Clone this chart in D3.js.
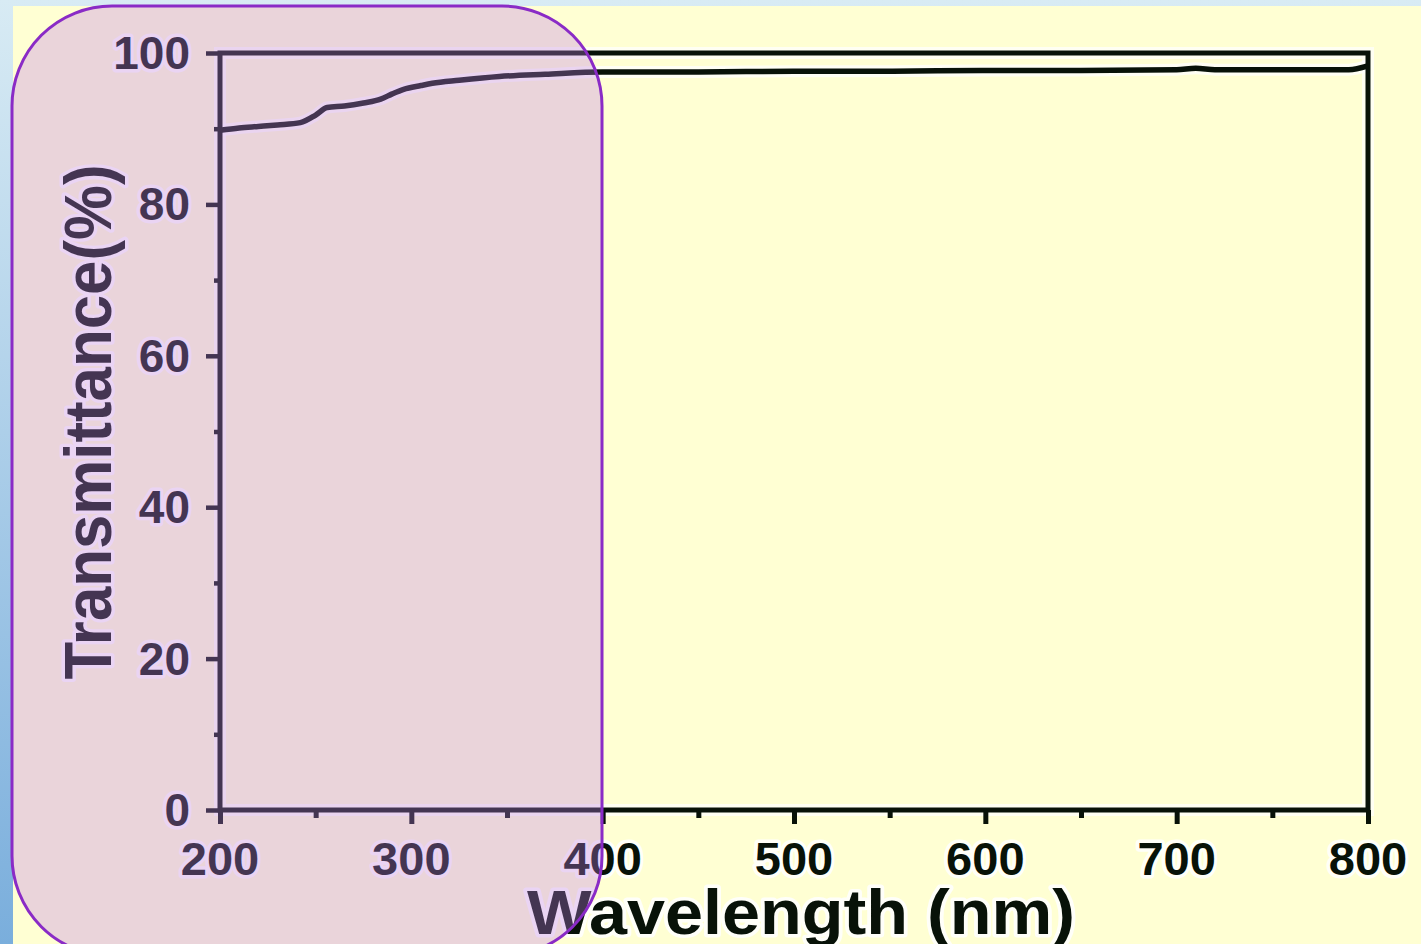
<!DOCTYPE html>
<html>
<head>
<meta charset="utf-8">
<script src="https://cdn.jsdelivr.net/npm/d3@7"></script>
<style>
  body { margin: 0; padding: 0; overflow: hidden; }
  svg { display: block; }
  .lbl { font-family: "Liberation Sans", Arial, sans-serif; font-weight: bold; fill: #081208;
         stroke: #ffffff; stroke-width: 7; stroke-linejoin: round; paint-order: stroke; stroke-opacity: 0.85; }
</style>
</head>
<body>
<svg id="chart"></svg>
<script>
// data
var wavelength = [200, 210, 220, 230, 242, 250, 256, 265, 275, 284, 290, 296, 305, 311, 325, 346, 370, 400, 450, 500, 550, 600, 650, 700, 710, 720, 750, 790, 800];
var transmittance = [89.8, 90.1, 90.3, 90.5, 90.8, 91.8, 92.8, 93.0, 93.4, 93.9, 94.6, 95.2, 95.7, 96.0, 96.4, 96.9, 97.2, 97.5, 97.5, 97.6, 97.6, 97.7, 97.7, 97.8, 98.0, 97.8, 97.8, 97.8, 98.3];
var xTicks = [200, 300, 400, 500, 600, 700, 800];
var xMinor = [250, 350, 450, 550, 650, 750];
var yTicks = [0, 20, 40, 60, 80, 100];
var yMinor = [10, 30, 50, 70, 90];

var data = wavelength.map(function(w, i) { return {w: w, t: transmittance[i]}; });

var screen = { width: 1421, height: 944 };

var svg = d3.select("#chart")
            .attr("width", screen.width)
            .attr("height", screen.height);

var defs = svg.append("defs");
var grad = defs.append("linearGradient").attr("id", "blue")
               .attr("x1", 0).attr("y1", 0).attr("x2", 0).attr("y2", 1);
grad.append("stop").attr("offset", "0%").attr("stop-color", "#d8ebf4");
grad.append("stop").attr("offset", "100%").attr("stop-color", "#7aaedc");

// background
svg.append("rect").attr("width", screen.width).attr("height", screen.height).attr("fill", "url(#blue)");
svg.append("rect").attr("x", 13).attr("y", 6).attr("width", screen.width - 13).attr("height", screen.height - 6)
   .attr("fill", "#ffffd3");

var margins = { top: 53, left: 220, right: 1421 - 1368, bottom: 944 - 810 };
var width = screen.width - margins.left - margins.right;
var height = screen.height - margins.top - margins.bottom;

var xScale = d3.scaleLinear().domain([200, 800]).range([0, width]);
var yScale = d3.scaleLinear().domain([0, 100]).range([height, 0]);

var plotLand = svg.append("g")
                  .attr("transform", "translate(" + margins.left + "," + margins.top + ")");

var line = d3.line()
             .x(function(d) { return xScale(d.w); })
             .y(function(d) { return yScale(d.t); })
             .curve(d3.curveMonotoneX);

// white glow under the frame and curve
plotLand.append("rect").attr("width", width).attr("height", height)
        .attr("fill", "none").attr("stroke", "#ffffff").attr("stroke-width", 12).attr("stroke-opacity", 0.7);
plotLand.append("path").datum(data).attr("d", line)
        .attr("fill", "none").attr("stroke", "#ffffff").attr("stroke-width", 12).attr("stroke-opacity", 0.75);

plotLand.append("rect").attr("width", width).attr("height", height)
        .attr("fill", "none").attr("stroke", "#081208").attr("stroke-width", 5);

plotLand.append("path").datum(data).attr("d", line)
        .attr("fill", "none").attr("stroke", "#081208").attr("stroke-width", 5.5)
        .attr("stroke-linejoin", "round");

// axes
var xAxis = d3.axisBottom(xScale).tickValues(xTicks).tickSize(14).tickFormat("");
var xAxisMinor = d3.axisBottom(xScale).tickValues(xMinor).tickSize(8).tickFormat("");
var yAxis = d3.axisLeft(yScale).tickValues(yTicks).tickSize(14).tickFormat("");
var yAxisMinor = d3.axisLeft(yScale).tickValues(yMinor).tickSize(6).tickFormat("");

[xAxis, xAxisMinor].forEach(function(ax) {
  plotLand.append("g").attr("transform", "translate(0," + height + ")").call(ax)
          .call(function(g) { g.select(".domain").remove(); })
          .selectAll("line").attr("stroke", "#081208").attr("stroke-width", 5);
});
[yAxis, yAxisMinor].forEach(function(ax) {
  plotLand.append("g").call(ax)
          .call(function(g) { g.select(".domain").remove(); })
          .selectAll("line").attr("stroke", "#081208").attr("stroke-width", 4.5);
});

// tick labels
plotLand.selectAll(".xlab").data(xTicks).enter().append("text")
        .attr("class", "lbl")
        .attr("x", function(d) { return xScale(d); })
        .attr("y", height + 65)
        .attr("text-anchor", "middle")
        .style("font-size", "47px")
        .text(function(d) { return d; });

plotLand.selectAll(".ylab").data(yTicks).enter().append("text")
        .attr("class", "lbl")
        .attr("x", -30)
        .attr("y", function(d) { return yScale(d) + 16; })
        .attr("text-anchor", "end")
        .style("font-size", "46px")
        .text(function(d) { return d; });

// axis titles
svg.append("text").attr("class", "lbl")
   .attr("x", 801).attr("y", 934)
   .attr("text-anchor", "middle")
   .style("font-size", "63px")
   .attr("textLength", 548).attr("lengthAdjust", "spacingAndGlyphs")
   .text("Wavelength (nm)");

svg.append("text").attr("class", "lbl")
   .attr("transform", "translate(111,422) rotate(-90)")
   .attr("text-anchor", "middle")
   .style("font-size", "66px")
   .attr("textLength", 515).attr("lengthAdjust", "spacingAndGlyphs")
   .text("Transmittance(%)");

// highlight box drawn over the left part
svg.append("rect")
   .attr("x", 12).attr("y", 6).attr("width", 590).attr("height", 950)
   .attr("rx", 100).attr("ry", 100)
   .attr("fill", "rgb(190,125,235)").attr("fill-opacity", 0.33)
   .attr("stroke", "#8a2bc6").attr("stroke-width", 3);
</script>
</body>
</html>
